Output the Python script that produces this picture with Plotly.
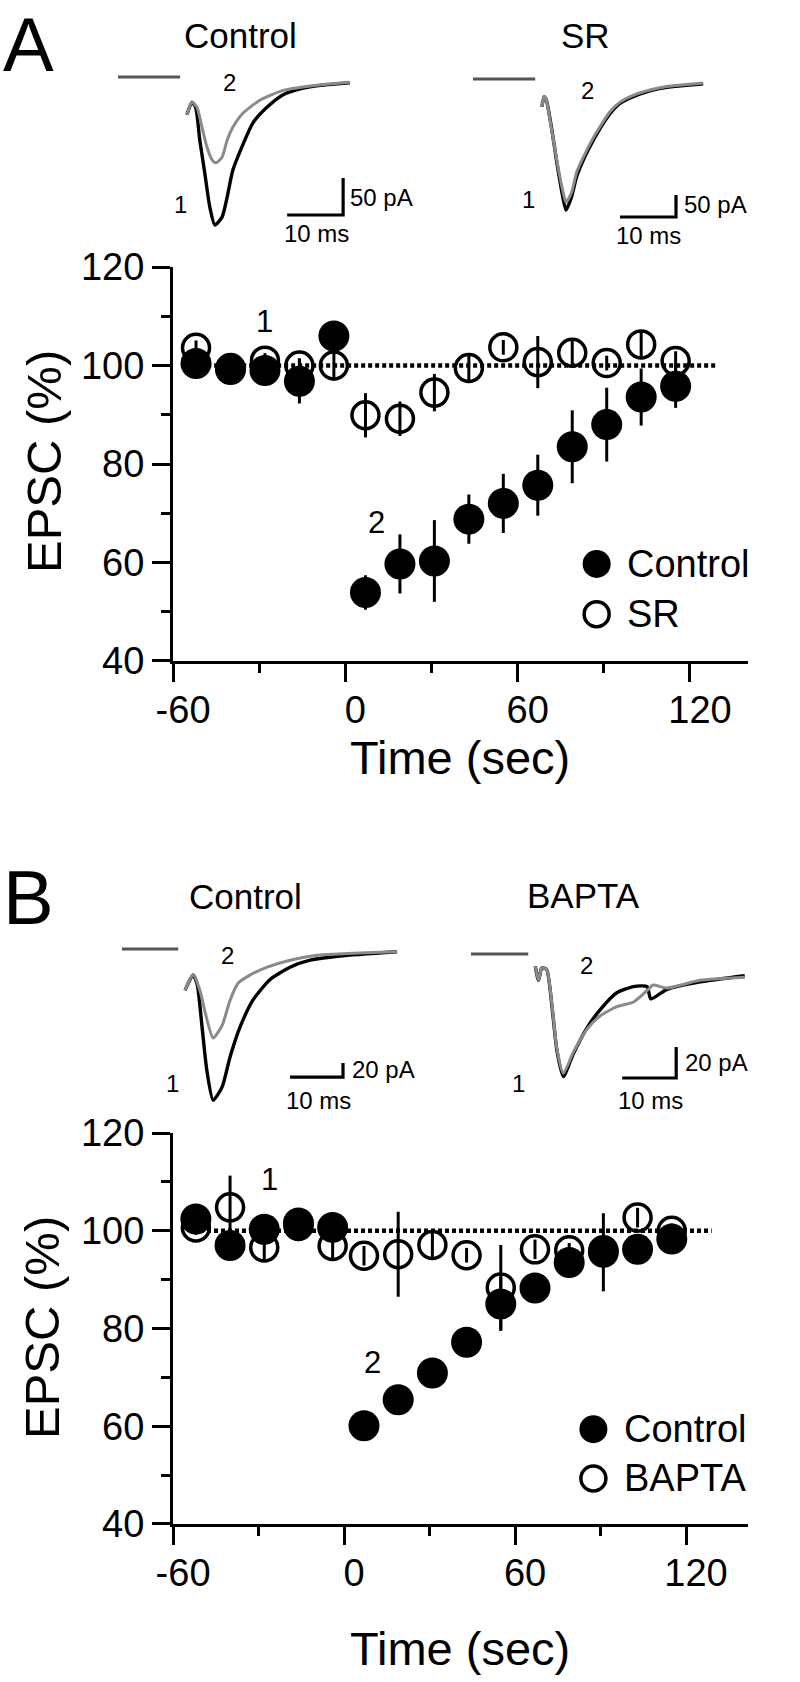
import plotly.graph_objects as go

W, H = 800, 1682
FONT = "Arial, Liberation Sans, Helvetica, sans-serif"

# ---------------- data: EPSC time course ----------------
time_s = [-52, -40, -28, -16, -4, 7, 19, 31, 43, 55, 67, 79, 91, 103, 115]

a_control = [100.4, 99.2, 99.0, 96.8, 106.0, 53.9, 59.7, 60.3, 68.8, 72.0, 75.7, 83.5, 88.0, 93.6, 95.8]
a_control_err = [1.5, 1.5, 2.5, 4.5, 1.5, 3.5, 6.0, 8.3, 5.0, 6.0, 6.2, 7.4, 7.5, 5.8, 4.4]
a_sr = [103.6, 99.5, 101.0, 100.0, 100.0, 89.9, 89.2, 94.5, 99.5, 103.7, 100.7, 102.6, 100.5, 104.3, 100.9]
a_sr_err = [1.5, 1.0, 1.5, 1.5, 3.0, 4.5, 3.5, 3.8, 2.5, 1.5, 5.3, 3.0, 1.5, 2.5, 2.0]

b_control = [102.4, 97.0, 100.3, 101.6, 100.7, 60.1, 65.4, 70.9, 77.2, 85.0, 88.3, 93.5, 95.6, 96.2, 98.3]
b_control_err = [1.5, 2.0, 2.0, 1.5, 1.5, 1.0, 1.0, 1.0, 1.5, 5.5, 1.5, 2.0, 8.0, 2.0, 1.5]
b_bapta = [100.7, 104.8, 96.6, 101.0, 96.9, 94.9, 95.2, 97.1, 95.0, 88.4, 96.2, 96.0, 96.0, 102.7, 100.0]
b_bapta_err = [1.5, 6.5, 3.0, 1.5, 3.0, 2.0, 8.7, 2.5, 1.5, 8.7, 2.0, 1.5, 1.5, 2.0, 1.5]

baseline_pct = 100
dotted_x = [-53, 129]

x_tickvals = [-60, 0, 60, 120]
x_ticktext = ["-60", "0", "60", "120"]
y_tickvals = [40, 60, 80, 100, 120]

# ---------------- data: example EPSC traces (ms, pA) ----------------
ac_ms1 = [12.3, 13.2, 13.9, 14.6, 15.5, 16.4, 17.3, 18.6, 19.5, 20.5, 22.1, 24.1, 26.6, 29.5, 32.5, 35.5, 41.4]
ac_pa1 = [-51, -34, -42, -85, -130, -176, -200, -189, -162, -126, -95, -62, -41, -24, -16, -12, -8]
ac_ms2 = [12.3, 13.2, 14.1, 15.0, 15.9, 16.8, 17.5, 18.6, 19.5, 20.5, 22.3, 25.4, 29.5, 35.5, 41.4]
ac_pa2 = [-51, -34, -41, -68, -95, -112, -116, -108, -85, -68, -49, -31, -18, -11, -7]

asr_ms = [12.3, 12.7, 13.1, 14.0, 14.9, 15.8, 16.6, 17.6, 18.5, 19.7, 21.2, 22.7, 24.5, 26.3, 28.6, 31.6, 34.6, 41.1]
asr_pa1 = [-63, -40, -48, -109, -184, -252, -298, -268, -222, -184, -146, -112, -78, -55, -40, -27, -19, -11]
asr_pa2 = [-63, -40, -48, -112, -180, -240, -280, -258, -212, -178, -140, -108, -74, -52, -37, -25, -17, -9]

bc_ms1 = [11.9, 13.4, 14.2, 15.1, 16.0, 17.2, 18.9, 20.4, 22.3, 24.7, 27.9, 31.7, 35.5, 41.1, 51.9]
bc_pa1 = [-59, -37, -51, -111, -173, -216, -197, -154, -111, -73, -44, -26, -16, -10, -4]
bc_ms2 = [11.9, 13.4, 14.7, 15.7, 17.2, 18.9, 20.4, 21.9, 24.2, 27.4, 31.7, 36.8, 51.9]
bc_pa2 = [-59, -37, -59, -91, -127, -109, -73, -49, -37, -26, -16, -9, -4]

bb_ms1 = [11.9, 12.5, 13.1, 14.0, 15.0, 15.9, 17.1, 19.0, 21.6, 23.9, 27.0, 30.1, 32.6, 33.3, 36.2, 42.4, 50.7]
bb_pa1 = [-8, -17, -9, -10, -34, -62, -79, -64, -47, -36, -25, -21, -21, -29, -23, -18, -14]
bb_ms2 = [11.9, 12.5, 13.1, 14.0, 15.0, 15.9, 17.1, 19.0, 21.6, 23.9, 27.0, 30.1, 32.8, 33.7, 36.2, 42.4, 50.7]
bb_pa2 = [-8, -17, -9, -10, -33, -61, -77, -63, -48, -40, -34, -31, -23, -20, -22, -17, -15]

scale_ms = 10
scale_pa = [50, 50, 20, 20]

# ---------------- layout helpers ----------------
def px(x):
    return x / W

def py(y):
    return 1 - y / H

fig = go.Figure()
annotations = []

def ann(text, x, y, size, xanchor="center", yanchor="middle", angle=0, xref="paper", yref="paper"):
    if xref == "paper":
        x = px(x)
    if yref == "paper":
        y = py(y)
    annotations.append(dict(text=text, x=x, y=y, xref=xref, yref=yref, showarrow=False,
                            xanchor=xanchor, yanchor=yanchor, textangle=angle,
                            font=dict(family=FONT, size=size, color="black")))

# ---------------- main panels ----------------
panels = [
    dict(xa="x", ya="y", ctl=a_control, ctl_err=a_control_err, drug=a_sr, drug_err=a_sr_err,
         drug_name="SR", x_dom=(173, 748), y_dom=(267, 661), xmax=140.2,
         lab1=(-28, 109), lab2=(10.7, 68.2), leg_y=(59.7, 49.5)),
    dict(xa="x2", ya="y2", ctl=b_control, ctl_err=b_control_err, drug=b_bapta, drug_err=b_bapta_err,
         drug_name="BAPTA", x_dom=(173, 748), y_dom=(1133, 1524), xmax=141.75,
         lab1=(-26, 110.4), lab2=(9.9, 73), leg_y=(59.4, 49.3)),
]

shapes = []
for i, p in enumerate(panels):
    fig.add_trace(go.Scatter(x=dotted_x, y=[baseline_pct] * 2, mode="lines", xaxis=p["xa"], yaxis=p["ya"],
                             line=dict(color="black", width=4.5, dash="4px,3px"), showlegend=False,
                             hoverinfo="skip"))
    fig.add_trace(go.Scatter(x=time_s, y=p["drug"], mode="markers", xaxis=p["xa"], yaxis=p["ya"],
                             name=p["drug_name"], showlegend=False,
                             error_y=dict(type="data", array=p["drug_err"], thickness=3, width=0, color="black"),
                             marker=dict(symbol="circle", size=27, color="rgba(0,0,0,0)",
                                         line=dict(color="black", width=3.5))))
    fig.add_trace(go.Scatter(x=time_s, y=p["ctl"], mode="markers", xaxis=p["xa"], yaxis=p["ya"],
                             name="Control", showlegend=False,
                             error_y=dict(type="data", array=p["ctl_err"], thickness=3, width=0, color="black"),
                             marker=dict(symbol="circle", size=31, color="black", line=dict(width=0))))
    for yy, filled in [(p["leg_y"][0], True), (p["leg_y"][1], False)]:
        r = 14 if filled else 12.5
        shapes.append(dict(type="circle", xref=p["xa"], yref=p["ya"], xsizemode="pixel", ysizemode="pixel",
                           xanchor=87.5, yanchor=yy, x0=-r, x1=r, y0=-r, y1=r,
                           fillcolor="black" if filled else "rgba(0,0,0,0)",
                           line=dict(color="black", width=0 if filled else 3.5)))
    ann("Control", 97.5, p["leg_y"][0], 38, xanchor="left", xref=p["xa"], yref=p["ya"])
    ann(p["drug_name"], 97.5, p["leg_y"][1], 38, xanchor="left", xref=p["xa"], yref=p["ya"])
    ann("1", p["lab1"][0], p["lab1"][1], 31, xref=p["xa"], yref=p["ya"])
    ann("2", p["lab2"][0], p["lab2"][1], 31, xref=p["xa"], yref=p["ya"])

    ax_common = dict(showline=True, linewidth=3, linecolor="black", ticks="outside", ticklen=18,
                     tickwidth=3, tickcolor="black", showgrid=False, zeroline=False, automargin=False,
                     tickfont=dict(family=FONT, size=38, color="black"))
    xkey = "xaxis" if i == 0 else "xaxis2"
    ykey = "yaxis" if i == 0 else "yaxis2"
    fig.layout[xkey] = dict(domain=[px(p["x_dom"][0]), px(p["x_dom"][1])], range=[-60.02, p["xmax"]],
                            anchor=p["ya"], tickmode="array", tickvals=x_tickvals, ticktext=x_ticktext,
                            ticklabelshift=10, ticklabelstandoff=-5,
                            minor=dict(ticks="outside", ticklen=9, tickwidth=3, tickcolor="black",
                                       tick0=-60, dtick=30, showgrid=False),
                            **ax_common)
    fig.layout[ykey] = dict(domain=[py(p["y_dom"][1]), py(p["y_dom"][0])], range=[39.98, 120.02],
                            anchor=p["xa"], tickmode="array", tickvals=y_tickvals,
                            minor=dict(ticks="outside", ticklen=9, tickwidth=3, tickcolor="black",
                                       tick0=40, dtick=10, showgrid=False),
                            **ax_common)

# axis titles
ann("EPSC (%)", 44, 462, 49, angle=-90)
ann("Time (sec)", 460, 757, 47)
ann("EPSC (%)", 42, 1328, 49, angle=-90)
ann("Time (sec)", 460, 1648, 47)

# panel letters
ann("A", 28, 0, 76, yanchor="top")
ann("B", 28, 853, 76, yanchor="top")

# ---------------- insets ----------------
insets = [
    dict(n=3, cal=(118, 77, 5.6, 0.74), box=(110, 410, 60, 245), base=11.1,
         t1=ac_ms1, i1=ac_pa1, t2=ac_ms2, i2=ac_pa2, bar=(40.2, -186.5), spa=scale_pa[0]),
    dict(n=4, cal=(473, 79, 5.6, 0.44), box=(465, 760, 60, 245), base=11.1,
         t1=asr_ms, i1=asr_pa1, t2=asr_ms, i2=asr_pa2, bar=(36.25, -313.6), spa=scale_pa[1]),
    dict(n=5, cal=(122, 949, 5.3, 0.70), box=(110, 420, 930, 1115), base=10.6,
         t1=bc_ms1, i1=bc_pa1, t2=bc_ms2, i2=bc_pa2, bar=(41.7, -182.9), spa=scale_pa[2]),
    dict(n=6, cal=(471, 954, 5.4, 1.55), box=(460, 770, 930, 1115), base=10.6,
         t1=bb_ms1, i1=bb_pa1, t2=bb_ms2, i2=bb_pa2, bar=(38.0, -80.0), spa=scale_pa[3]),
]
GRAY = "#8a8a8a"
for ins in insets:
    x0, y0, kx, ky = ins["cal"]
    xl, xr, yt, yb = ins["box"]
    n = ins["n"]
    xa, ya = "x%d" % n, "y%d" % n
    fig.layout["xaxis%d" % n] = dict(domain=[px(xl), px(xr)], range=[(xl - x0) / kx, (xr - x0) / kx],
                                     visible=False, anchor=ya)
    fig.layout["yaxis%d" % n] = dict(domain=[py(yb), py(yt)], range=[-(yb - y0) / ky, -(yt - y0) / ky],
                                     visible=False, anchor=xa)
    fig.add_trace(go.Scatter(x=ins["t1"], y=ins["i1"], mode="lines", xaxis=xa, yaxis=ya,
                             line=dict(color="black", width=3.4, shape="spline", smoothing=0.6),
                             showlegend=False, hoverinfo="skip"))
    fig.add_trace(go.Scatter(x=ins["t2"], y=ins["i2"], mode="lines", xaxis=xa, yaxis=ya,
                             line=dict(color=GRAY, width=3.0, shape="spline", smoothing=0.6),
                             showlegend=False, hoverinfo="skip"))
    fig.add_trace(go.Scatter(x=[0, ins["base"]], y=[0, 0], mode="lines", xaxis=xa, yaxis=ya,
                             line=dict(color="#555555", width=3.2), showlegend=False, hoverinfo="skip"))
    bt, bi = ins["bar"]
    fig.add_trace(go.Scatter(x=[bt - scale_ms, bt, bt], y=[bi, bi, bi + ins["spa"]], mode="lines",
                             xaxis=xa, yaxis=ya, line=dict(color="black", width=3.2),
                             showlegend=False, hoverinfo="skip"))

# inset texts
ann("Control", 240, 36, 35)
ann("SR", 585, 35, 35)
ann("Control", 245, 896, 35)
ann("BAPTA", 583, 895, 35)

ann("2", 230, 82, 24)
ann("1", 180, 205, 24)
ann("2", 587, 90, 24)
ann("1", 528, 200, 24)
ann("2", 227, 955, 24)
ann("1", 172, 1083, 24)
ann("2", 586, 965, 24)
ann("1", 518, 1083, 24)

ann("50 pA", 348, 197, 24, xanchor="left")
ann("10 ms", 316, 234, 24)
ann("50 pA", 682, 205, 24, xanchor="left")
ann("10 ms", 648, 235, 24)
ann("20 pA", 350, 1069, 24, xanchor="left")
ann("10 ms", 318, 1100, 24)
ann("20 pA", 683, 1062, 24, xanchor="left")
ann("10 ms", 650, 1100, 24)

fig.update_layout(width=W, height=H, autosize=False, margin=dict(l=0, r=0, t=0, b=0, pad=0, autoexpand=False),
                  paper_bgcolor="white", plot_bgcolor="white",
                  annotations=annotations, shapes=shapes, showlegend=False,
                  font=dict(family=FONT, color="black"))

fig.write_html("out.html",
               config={"displayModeBar": False, "responsive": False},
               post_script="document.body.style.margin='0';document.body.style.padding='0';"
                           "document.documentElement.style.overflow='hidden';")
